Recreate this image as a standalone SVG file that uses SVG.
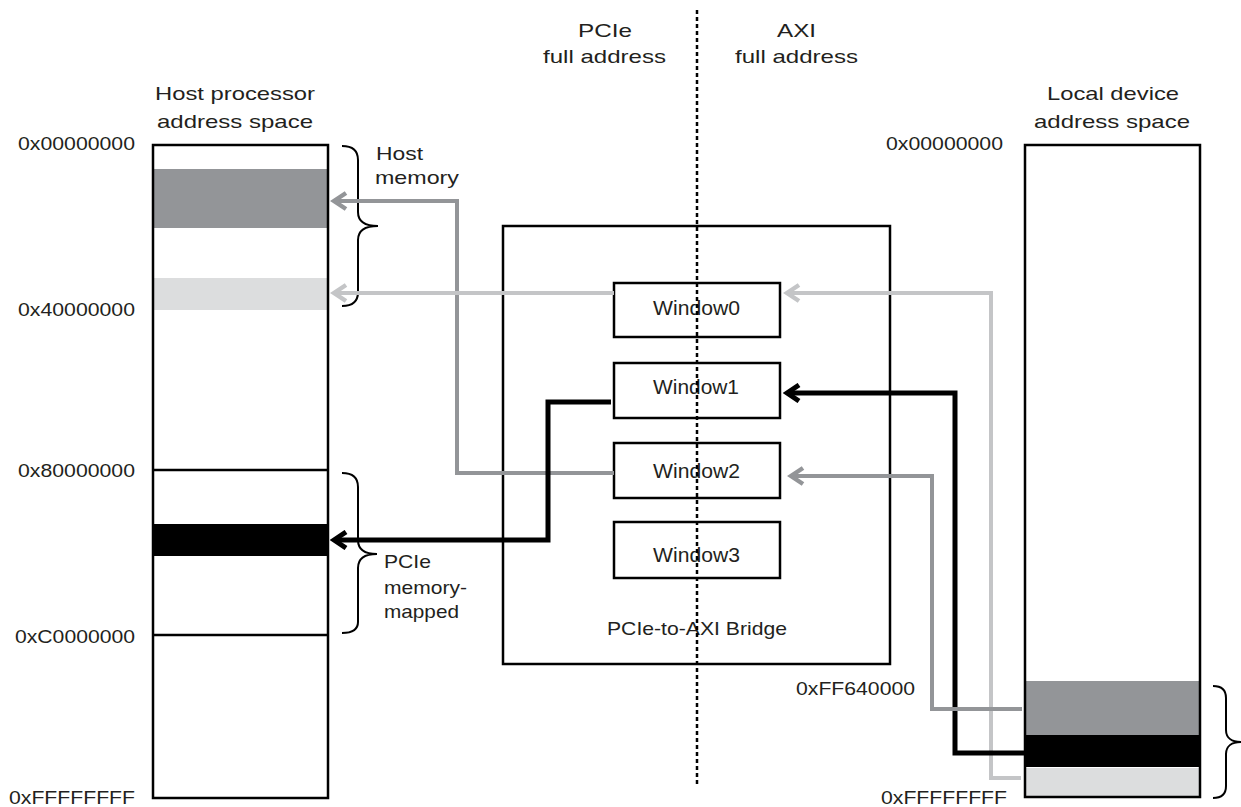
<svg xmlns="http://www.w3.org/2000/svg" width="1241" height="807" viewBox="0 0 1241 807">
<style>
  .t { font-family: "Liberation Sans", Arial, sans-serif; font-size: 19px; fill: #231f20; }
  .w { font-family: "Liberation Sans", Arial, sans-serif; font-size: 21px; fill: #231f20; }
  .box { fill: #ffffff; stroke: #000000; stroke-width: 2.5; }
  .edge { fill: none; stroke-linejoin: miter; stroke-linecap: butt; }
  .brace { fill: none; stroke: #000000; stroke-width: 2; }
  .dk { stroke: #939598; stroke-width: 4; }
  .lt { stroke: #c4c5c7; stroke-width: 4; }
  .bk { stroke: #000000; stroke-width: 5; }
</style>
<defs>
  <marker id="ah-dk" viewBox="-16 -10 20 20" markerWidth="20" markerHeight="20" refX="0" refY="0" orient="auto" markerUnits="userSpaceOnUse">
    <path d="M-12,-8 L0,0 L-12,8" fill="none" stroke="#939598" stroke-width="4.5"/>
  </marker>
  <marker id="ah-lt" viewBox="-16 -10 20 20" markerWidth="20" markerHeight="20" refX="0" refY="0" orient="auto" markerUnits="userSpaceOnUse">
    <path d="M-12,-8 L0,0 L-12,8" fill="none" stroke="#c4c5c7" stroke-width="4.5"/>
  </marker>
  <marker id="ah-bk" viewBox="-16 -10 20 20" markerWidth="20" markerHeight="20" refX="0" refY="0" orient="auto" markerUnits="userSpaceOnUse">
    <path d="M-12,-8 L0,0 L-12,8" fill="none" stroke="#000000" stroke-width="5"/>
  </marker>
</defs>
<rect width="1241" height="807" fill="#ffffff"/>

<!-- headings -->
<g id="headings">
  <text class="t" x="578" y="37" textLength="54" lengthAdjust="spacingAndGlyphs">PCIe</text>
  <text class="t" x="543" y="63" textLength="123" lengthAdjust="spacingAndGlyphs">full address</text>
  <text class="t" x="777" y="37" textLength="39" lengthAdjust="spacingAndGlyphs">AXI</text>
  <text class="t" x="735" y="63" textLength="123" lengthAdjust="spacingAndGlyphs">full address</text>
</g>

<!-- Host processor address space -->
<g id="host-space">
  <text class="t" x="155" y="100" textLength="160" lengthAdjust="spacingAndGlyphs">Host processor</text>
  <text class="t" x="157" y="128" textLength="156" lengthAdjust="spacingAndGlyphs">address space</text>
  <rect x="153" y="145" width="175" height="653" fill="#ffffff"/>
  <rect x="154" y="169" width="173" height="59" fill="#939598"/>
  <rect x="152" y="278" width="176" height="32" fill="#dcddde"/>
  <rect x="154" y="524" width="173" height="32" fill="#000000"/>
  <rect x="153" y="145" width="175" height="653" fill="none" stroke="#000000" stroke-width="2.5"/>
  <line x1="153" y1="470" x2="328" y2="470" stroke="#000000" stroke-width="2.5"/>
  <line x1="153" y1="635" x2="328" y2="635" stroke="#000000" stroke-width="2.5"/>
  <text class="t" x="135" y="150" text-anchor="end" textLength="117" lengthAdjust="spacingAndGlyphs">0x00000000</text>
  <text class="t" x="135" y="316" text-anchor="end" textLength="117" lengthAdjust="spacingAndGlyphs">0x40000000</text>
  <text class="t" x="135" y="477" text-anchor="end" textLength="117" lengthAdjust="spacingAndGlyphs">0x80000000</text>
  <text class="t" x="135" y="643" text-anchor="end" textLength="120" lengthAdjust="spacingAndGlyphs">0xC0000000</text>
  <text class="t" x="135" y="804" text-anchor="end" textLength="126" lengthAdjust="spacingAndGlyphs">0xFFFFFFFF</text>
</g>

<g id="host-memory-brace">
  <path class="brace" d="M342,146 C352,146 358,150 358,160 L358,212 C358,222 366,226 378,226 C366,226 358,230 358,240 L358,292 C358,302 352,306 342,306"/>
  <text class="t" x="376" y="160" textLength="47" lengthAdjust="spacingAndGlyphs">Host</text>
  <text class="t" x="375" y="184" textLength="84" lengthAdjust="spacingAndGlyphs">memory</text>
</g>

<g id="pcie-mm-brace">
  <path class="brace" d="M342,473 C352,473 358,477 358,487 L358,540 C358,550 366,554 377,554 C366,554 358,558 358,568 L358,622 C358,630 352,633 342,633"/>
  <text class="t" x="384" y="568" textLength="47" lengthAdjust="spacingAndGlyphs">PCIe</text>
  <text class="t" x="384" y="594" textLength="83" lengthAdjust="spacingAndGlyphs">memory-</text>
  <text class="t" x="384" y="618" textLength="75" lengthAdjust="spacingAndGlyphs">mapped</text>
</g>

<!-- Bridge -->
<g id="bridge">
  <rect class="box" x="503" y="226" width="387" height="438"/>
  <text class="t" x="607" y="635" textLength="180" lengthAdjust="spacingAndGlyphs">PCIe-to-AXI Bridge</text>
</g>
<g id="window0">
  <rect class="box" x="614" y="283" width="166" height="54"/>
  <text class="w" x="653" y="315" textLength="87" lengthAdjust="spacingAndGlyphs">Window0</text>
</g>
<g id="window1">
  <rect class="box" x="614" y="363" width="166" height="55"/>
  <text class="w" x="653" y="394" textLength="86" lengthAdjust="spacingAndGlyphs">Window1</text>
</g>
<g id="window2">
  <rect class="box" x="614" y="443" width="166" height="55"/>
  <text class="w" x="653" y="478" textLength="87" lengthAdjust="spacingAndGlyphs">Window2</text>
</g>
<g id="window3">
  <rect class="box" x="614" y="522" width="166" height="56"/>
  <text class="w" x="653" y="562" textLength="87" lengthAdjust="spacingAndGlyphs">Window3</text>
</g>

<!-- Local device address space -->
<g id="local-space">
  <text class="t" x="1047" y="100" textLength="132" lengthAdjust="spacingAndGlyphs">Local device</text>
  <text class="t" x="1034" y="128" textLength="156" lengthAdjust="spacingAndGlyphs">address space</text>
  <rect x="1025" y="145" width="175" height="652" fill="#ffffff"/>
  <rect x="1026" y="681" width="173" height="54" fill="#939598"/>
  <rect x="1026" y="735" width="173" height="32" fill="#000000"/>
  <rect x="1026" y="768" width="173" height="29" fill="#dcddde"/>
  <rect x="1025" y="145" width="175" height="652" fill="none" stroke="#000000" stroke-width="2.5"/>
  <text class="t" x="1003" y="150" text-anchor="end" textLength="117" lengthAdjust="spacingAndGlyphs">0x00000000</text>
  <text class="t" x="915" y="695" text-anchor="end" textLength="119" lengthAdjust="spacingAndGlyphs">0xFF640000</text>
  <text class="t" x="1007" y="804" text-anchor="end" textLength="126" lengthAdjust="spacingAndGlyphs">0xFFFFFFFF</text>
</g>
<g id="local-brace">
  <path class="brace" d="M1213,686 C1222,686 1226,690 1226,698 L1226,730 C1226,738 1232,742 1241,742 C1232,742 1226,746 1226,754 L1226,786 C1226,794 1222,798 1213,798"/>
</g>

<!-- connectors -->
<g id="connectors">
  <path class="edge dk" d="M614,473 H457 V201 H334" marker-end="url(#ah-dk)"/>
  <path class="edge lt" d="M614,293 H334" marker-end="url(#ah-lt)"/>
  <path class="edge bk" d="M611,402 H548 V540 H334" marker-end="url(#ah-bk)"/>
  <path class="edge lt" d="M1021,778 H991 V293 H787" marker-end="url(#ah-lt)"/>
  <path class="edge bk" d="M1026,753 H955 V393 H787" marker-end="url(#ah-bk)"/>
  <path class="edge dk" d="M1022,709 H932 V476 H791" marker-end="url(#ah-dk)"/>
</g>

<!-- PCIe / AXI divider -->
<g id="divider">
  <line x1="697" y1="10" x2="697" y2="785" stroke="#000000" stroke-width="2.5" stroke-dasharray="4 3"/>
</g>
</svg>
